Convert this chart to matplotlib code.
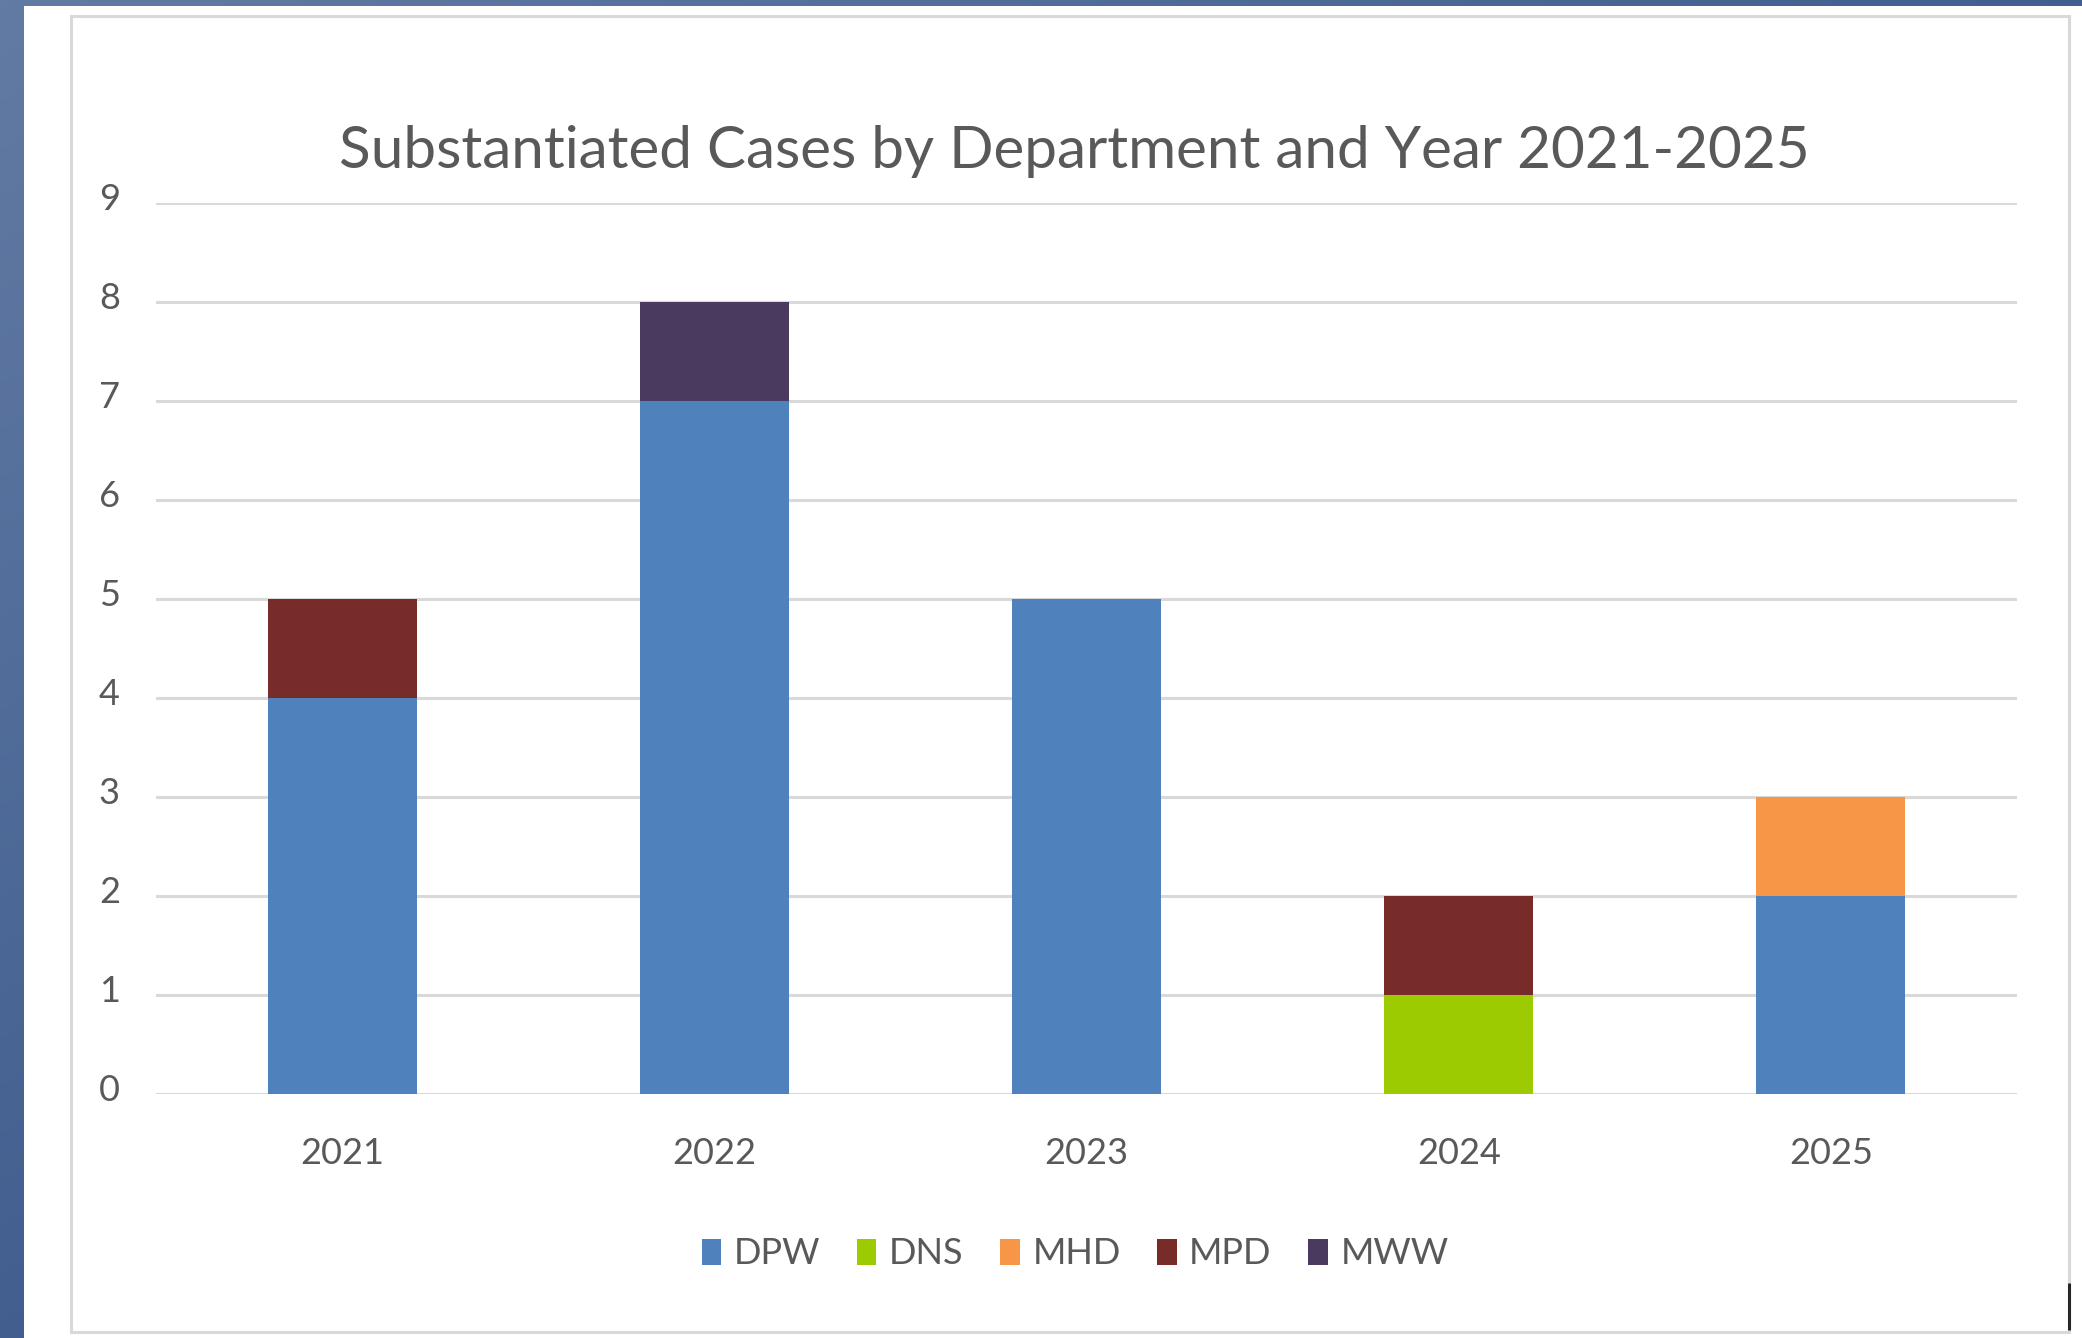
import matplotlib
matplotlib.use("Agg")
import matplotlib.pyplot as plt
import matplotlib.transforms as mtransforms
from matplotlib.patches import Rectangle
import numpy as np

plt.rcParams['font.family'] = ['Lato', 'DejaVu Sans']

# data
years = ['2021', '2022', '2023', '2024', '2025']
departments = ['DPW', 'DNS', 'MHD', 'MPD', 'MWW']
dpw = [4, 7, 5, 0, 2]
dns = [0, 0, 0, 1, 0]
mhd = [0, 0, 0, 0, 1]
mpd = [1, 0, 0, 1, 0]
mww = [0, 1, 0, 0, 0]
series = [dpw, dns, mhd, mpd, mww]
colors = ['#4F81BD', '#9BCB00', '#F79646', '#772C2A', '#4B3A60']
title = 'Substantiated Cases by Department and Year 2021-2025'

W, H = 2082, 1338
txt = '#595959'

fig = plt.figure(figsize=(W / 100, H / 100), dpi=100)

# slide background: blue gradient with white card
bg = fig.add_axes([0, 0, 1, 1])
gx, gy = np.meshgrid(np.linspace(0, 1, 200), np.linspace(0, 1, 200))
t = np.clip((gx + gy) / 1.2, 0, 1)
c0 = np.array([0x62, 0x7B, 0xA4]) / 255
c1 = np.array([0x3B, 0x59, 0x8B]) / 255
grad = c0 * (1 - t[..., None]) + c1 * t[..., None]
bg.imshow(grad, extent=[0, W, 0, H], origin='upper', aspect='auto', zorder=0)
bg.set_xlim(0, W)
bg.set_ylim(0, H)
bg.axis('off')
bg.add_patch(Rectangle((24, 0), W - 24, H - 6, facecolor='white', edgecolor='none', zorder=1))
bg.add_patch(Rectangle((71, 6), 1998, 1316.5, facecolor='none', edgecolor='#D9D9D9', lw=2.2, zorder=2))
bg.plot([2069, 2069], [8, 55], color='#262626', lw=2.2, zorder=3, solid_capstyle='butt')

ax = fig.add_axes([156 / W, 1 - 1094 / H, 1861 / W, 891 / H])
ax.set_facecolor('none')

x = np.arange(len(years))
bottom = np.zeros(len(years))
for name, vals, col in zip(departments, series, colors):
    ax.bar(x, vals, width=0.4, bottom=bottom, color=col, label=name, zorder=3)
    bottom += np.array(vals)

ax.set_xlim(-0.5, len(years) - 0.5)
ax.set_ylim(0, 9)
ax.set_yticks(range(10))
ax.set_xticks(x)
ax.set_xticklabels(years)
ax.yaxis.grid(True, color='#D9D9D9', lw=2.2)
ax.set_axisbelow(True)
for s in ax.spines.values():
    s.set_visible(False)
ax.tick_params(axis='both', length=0, labelsize=26, colors=txt)
ax.tick_params(axis='x', pad=31)
ax.tick_params(axis='y', pad=26)
# y labels sit a little above their gridlines
shift = mtransforms.ScaledTranslation(0, 5 / 72, fig.dpi_scale_trans)
for lab in ax.get_yticklabels():
    lab.set_transform(lab.get_transform() + shift)

fig.text(1074 / W, 1 - 152 / H, title, ha='center', va='center', fontsize=42, color=txt)

fig.legend(loc='center', bbox_to_anchor=(1075 / W, 1 - 1254 / H), ncol=5, frameon=False,
           fontsize=26, labelcolor=txt, handlelength=0.55, handleheight=0.7,
           handletextpad=0.35, columnspacing=1.0)

fig.savefig('out.png', dpi=100)
